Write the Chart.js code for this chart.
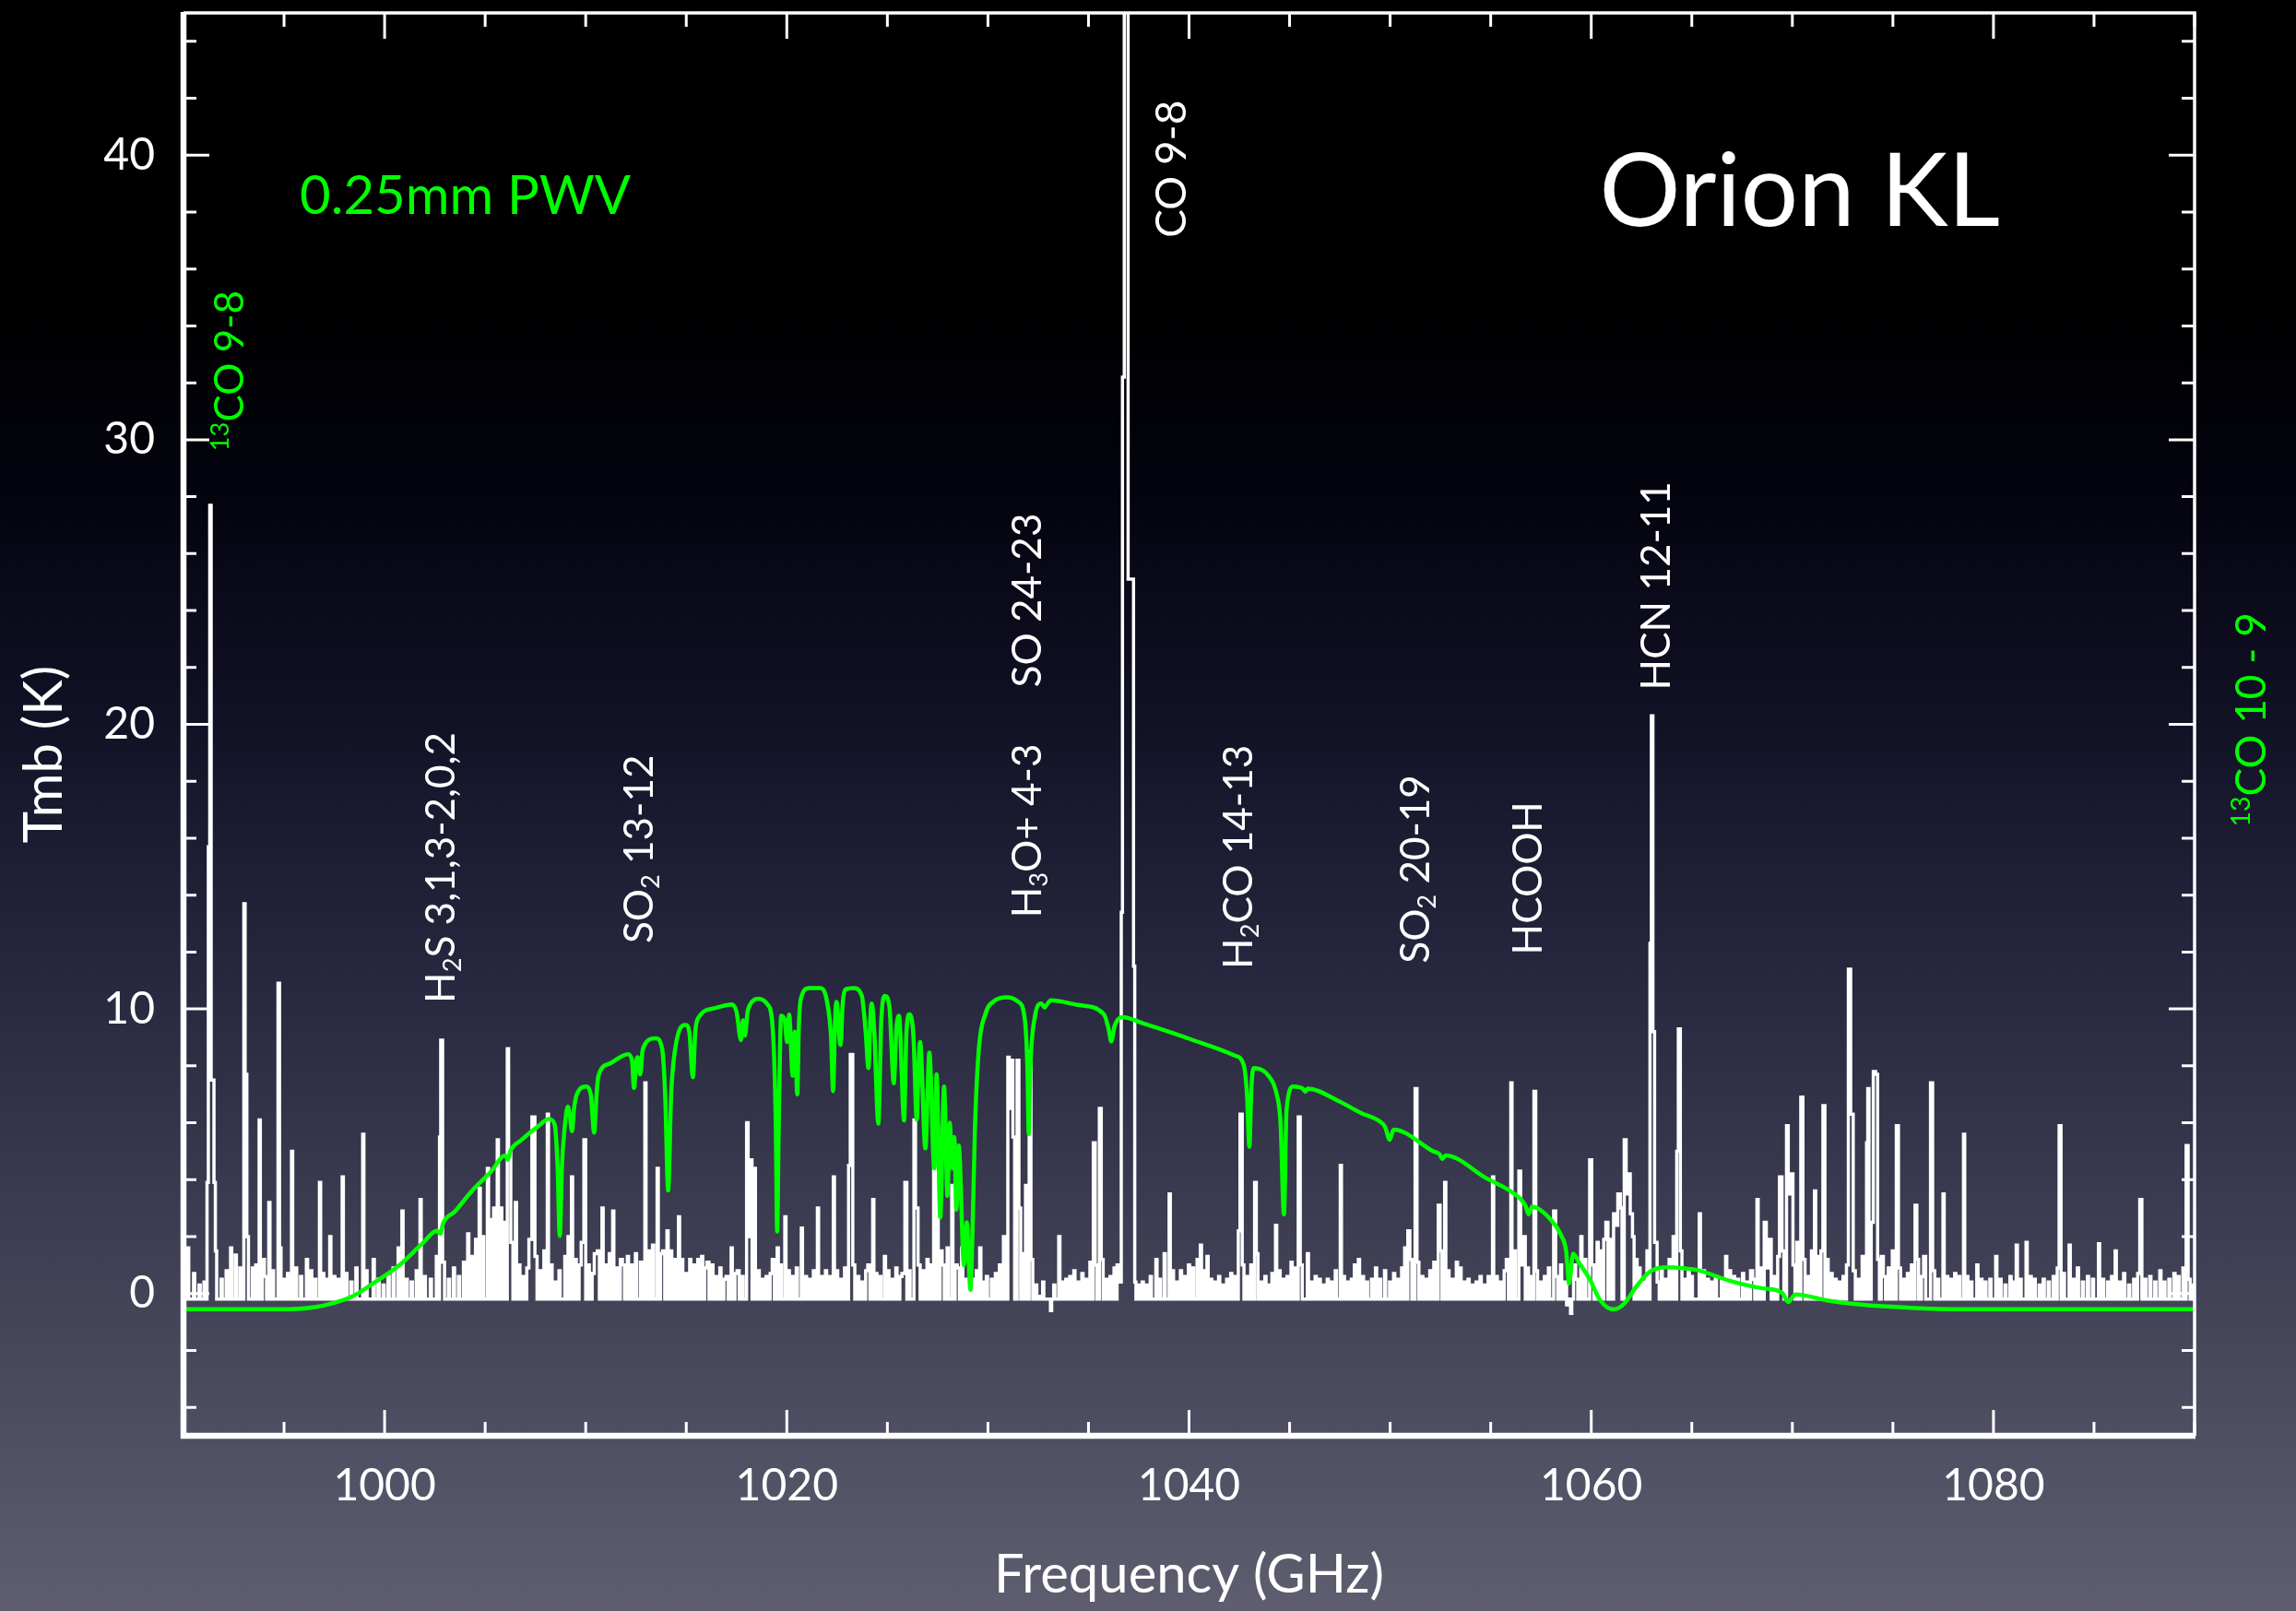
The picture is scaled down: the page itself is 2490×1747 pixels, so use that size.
<!DOCTYPE html>
<html>
<head>
<meta charset="utf-8">
<title>Orion KL 1 THz spectrum</title>
<script src="https://cdn.jsdelivr.net/npm/chart.js@4.4.1/dist/chart.umd.min.js"></script>
<style>
  html, body { margin: 0; padding: 0; background: #000; }
  canvas { display: block; }
</style>
</head>
<body>
<canvas id="spec" width="2490" height="1747"></canvas>
<script>
// ---- Orion KL spectrum: channels above the baseline (GHz, K) ----
const specFreq = [
  990.23, 990.53, 990.8, 991.05, 991.20, 991.27, 991.34, 991.41, 991.48, 991.55, 991.62, 991.9,
  992.15, 992.37, 992.6, 992.83, 993.03, 993.1, 993.2, 993.45, 993.62, 993.79, 993.95, 994.1,
  994.27, 994.45, 994.73, 994.82, 995.0, 995.2, 995.4, 995.6, 995.85, 996.14, 996.35, 996.55,
  996.79, 996.95, 997.12, 997.3, 997.5, 997.7, 997.92, 998.1, 998.35, 998.6, 998.94, 999.1,
  999.46, 999.7, 999.95, 1000.2, 1000.45, 1000.7, 1000.89, 1001.1, 1001.35, 1001.6, 1001.79, 1002.0,
  1002.3, 1002.6, 1002.76, 1002.82, 1002.95, 1003.2, 1003.45, 1003.7, 1003.95, 1004.16, 1004.35, 1004.55,
  1004.73, 1004.9, 1005.14, 1005.3, 1005.45, 1005.63, 1005.8, 1005.95, 1006.13, 1006.2, 1006.35, 1006.53,
  1006.7, 1006.9, 1007.1, 1007.25, 1007.40, 1007.55, 1007.75, 1007.95, 1008.12, 1008.3, 1008.5, 1008.7,
  1008.99, 1009.15, 1009.32, 1009.5, 1009.7, 1009.85, 1009.97, 1010.15, 1010.35, 1010.5, 1010.65, 1010.84,
  1011.0, 1011.2, 1011.37, 1011.55, 1011.75, 1011.9, 1012.1, 1012.3, 1012.5, 1012.75, 1012.97, 1013.15,
  1013.35, 1013.58, 1013.75, 1013.9, 1014.07, 1014.25, 1014.45, 1014.64, 1014.8, 1015.0, 1015.2, 1015.4,
  1015.6, 1015.79, 1015.95, 1016.1, 1016.3, 1016.5, 1016.7, 1016.9, 1017.05, 1017.26, 1017.45, 1017.6,
  1017.8, 1018.03, 1018.12, 1018.24, 1018.41, 1018.6, 1018.8, 1019.0, 1019.2, 1019.35, 1019.55, 1019.7,
  1019.93, 1020.1, 1020.3, 1020.5, 1020.75, 1020.95, 1021.15, 1021.35, 1021.55, 1021.75, 1021.95, 1022.15,
  1022.34, 1022.5, 1022.7, 1022.9, 1023.1, 1023.21, 1023.35, 1023.55, 1023.75, 1023.95, 1024.1, 1024.30,
  1024.45, 1024.65, 1024.88, 1025.05, 1025.25, 1025.45, 1025.65, 1025.8, 1025.94, 1026.1, 1026.35, 1026.45,
  1026.6, 1026.8, 1027.0, 1027.15, 1027.33, 1027.5, 1027.65, 1027.8, 1028.0, 1028.23, 1028.4, 1028.55,
  1028.72, 1028.9, 1029.1, 1029.3, 1029.45, 1029.62, 1029.8, 1029.95, 1030.2, 1030.4, 1030.6, 1030.8,
  1031.02, 1031.1, 1031.18, 1031.3, 1031.48, 1031.6, 1031.75, 1031.9, 1032.08, 1032.2, 1032.4, 1032.6,
  1032.75, 1033.14, 1033.3, 1033.55, 1033.7, 1033.9, 1034.1, 1034.3, 1034.5, 1034.7, 1034.9, 1035.1,
  1035.27, 1035.4, 1035.57, 1035.7, 1035.9, 1036.1, 1036.3, 1036.45,
  1036.60, 1036.66, 1036.72, 1036.84, 1036.92, 1037.02, 1037.12, 1037.21, 1037.27, 1037.33,
  1037.5, 1037.7, 1037.9, 1038.1, 1038.38, 1038.55, 1038.79, 1039.04, 1039.2, 1039.4, 1039.6, 1039.8,
  1040.0, 1040.2, 1040.43, 1040.59, 1040.75, 1040.92, 1041.1, 1041.3, 1041.5, 1041.7, 1041.9, 1042.1,
  1042.3, 1042.48, 1042.59, 1042.7, 1042.9, 1043.1, 1043.29, 1043.4, 1043.6, 1043.8, 1044.0, 1044.15,
  1044.33, 1044.5, 1044.7, 1044.9, 1045.1, 1045.3, 1045.46, 1045.6, 1045.91, 1046.1, 1046.3, 1046.5,
  1046.7, 1046.9, 1047.1, 1047.3, 1047.55, 1047.7, 1047.9, 1048.1, 1048.25, 1048.45, 1048.65, 1048.85,
  1049.1, 1049.3, 1049.5, 1049.75, 1050.0, 1050.2, 1050.4, 1050.6, 1050.75, 1050.91, 1051.05, 1051.27,
  1051.4, 1051.6, 1051.8, 1052.0, 1052.2, 1052.42, 1052.55, 1052.74, 1052.9, 1053.1, 1053.32, 1053.5,
  1053.7, 1053.9, 1054.1, 1054.3, 1054.5, 1054.7, 1054.9, 1055.12, 1055.3, 1055.5, 1055.7, 1055.85,
  1056.03, 1056.2, 1056.43, 1056.55, 1056.69, 1056.85, 1057.0, 1057.18, 1057.3, 1057.5, 1057.7, 1057.9,
  1058.16, 1058.3, 1058.5, 1058.7, 1058.85, 1059.0, 1059.15, 1059.3, 1059.51, 1059.7, 1059.95, 1060.1,
  1060.32, 1060.5, 1060.65, 1060.8, 1060.95, 1061.14, 1061.25, 1061.39, 1061.5, 1061.67, 1061.8, 1061.88,
  1062.0, 1062.1, 1062.25, 1062.4, 1062.6, 1062.8, 1062.95, 1063.03, 1063.1, 1063.2, 1063.35, 1063.5,
  1063.7, 1063.9, 1064.1, 1064.28, 1064.38, 1064.48, 1064.65, 1064.85, 1065.0, 1065.4, 1065.6, 1065.8,
  1066.0, 1066.2, 1066.5, 1066.71, 1066.9, 1067.1, 1067.3, 1067.55, 1067.75, 1067.95, 1068.1, 1068.27,
  1068.45, 1068.63, 1068.78, 1068.92, 1069.1, 1069.3, 1069.42, 1069.55, 1069.74, 1069.85, 1069.96, 1070.1,
  1070.25, 1070.45, 1070.6, 1070.8, 1070.98, 1071.13, 1071.3, 1071.45, 1071.59, 1071.75, 1071.95, 1072.15,
  1072.35, 1072.55, 1072.72, 1072.85, 1072.95, 1073.1, 1073.3, 1073.5, 1073.72, 1073.78, 1073.95, 1074.1,
  1074.18, 1074.3, 1074.45, 1074.6, 1074.8, 1075.0, 1075.2, 1075.35, 1075.55, 1075.75, 1075.95, 1076.13,
  1076.25, 1076.45, 1076.6, 1076.9, 1077.05, 1077.25, 1077.52, 1077.7, 1077.9, 1078.1, 1078.3, 1078.54,
  1078.7, 1078.9, 1079.2, 1079.4, 1079.6, 1079.85, 1080.14, 1080.35, 1080.6, 1080.85, 1081.0, 1081.16,
  1081.35, 1081.65, 1081.85, 1082.05, 1082.3, 1082.5, 1082.75, 1083.0, 1083.2, 1083.33, 1083.5, 1083.79,
  1084.0, 1084.2, 1084.45, 1084.7, 1084.95, 1085.25, 1085.45, 1085.7, 1085.9, 1086.08, 1086.3, 1086.5,
  1086.75, 1087.0, 1087.2, 1087.35, 1087.55, 1087.8, 1088.05, 1088.3, 1088.5, 1088.75, 1089.0, 1089.2,
  1089.45, 1089.61, 1089.75, 1089.9
];
const specTb = [
  1.6, 0.7, 0.3, 0.4, 3.9, 15.7, 27.7, 7.5, 7.5, 3.9, 1.5, 0.5,
  0.8, 1.6, 1.35, 0.9, 13.7, 7.7, 2.0, 0.9, 1.0, 6.1, 1.2, 0.6,
  3.2, 0.8, 10.9, 1.6, 0.5, 0.7, 5.0, 0.9, 0.6, 1.2, 0.8, 0.5,
  3.9, 0.7, 0.5, 2.0, 0.6, 0.5, 4.1, 0.7, 0.4, 0.9, 5.6, 0.8,
  1.2, 0.5, 0.3, 0.6, 0.9, 1.6, 2.9, 0.5, 0.4, 0.8, 3.3, 0.6,
  0.5, 1.3, 5.5, 8.9, 1.1, 0.5, 0.9, 0.6, 1.1, 2.1, 1.3, 1.9,
  3.7, 2.0, 4.4, 2.6, 3.0, 5.4, 3.0, 2.5, 8.6, 5.0, 1.8, 3.2,
  1.0, 0.6, 0.9, 1.9, 6.2, 1.3, 0.8, 1.5, 6.3, 1.0, 0.4, 0.8,
  1.3, 2.0, 4.1, 1.2, 1.0, 1.8, 5.4, 1.0, 0.7, 1.4, 1.5, 3.0,
  1.0, 1.4, 2.9, 0.9, 1.2, 1.0, 1.3, 1.0, 1.4, 1.1, 7.4, 1.5,
  1.7, 4.4, 1.4, 1.5, 2.2, 1.5, 1.2, 2.7, 1.2, 0.7, 1.2, 1.0,
  1.2, 1.3, 0.9, 1.1, 1.0, 0.6, 0.9, 0.5, 0.6, 1.6, 0.7, 0.8,
  0.6, 6.0, 2.0, 4.7, 4.4, 0.8, 0.5, 0.6, 0.7, 1.2, 1.6, 1.0,
  2.7, 0.8, 0.6, 0.9, 2.3, 0.6, 0.5, 0.8, 3.0, 0.6, 0.8, 0.6,
  4.1, 0.8, 0.5, 0.9, 4.5, 8.4, 1.0, 0.6, 0.4, 0.8, 1.0, 3.3,
  0.7, 0.6, 1.3, 0.8, 0.5, 0.9, 0.6, 0.7, 3.9, 0.8, 6.1, 3.0,
  1.0, 0.8, 1.2, 1.0, 4.4, 5.9, 1.5, 1.0, 1.6, 3.8, 1.0, 0.9,
  1.6, 0.5, 0.7, 0.5, 0.8, 1.6, 0.4, 0.6, 0.5, 0.7, 1.0, 2.0,
  8.3, 6.5, 8.2, 5.5, 8.2, 3.0, 1.4, 3.8, 8.5, 1.2, 0.3, -0.1,
  0.4, -0.6, 0.3, 2.0, 0.4, 0.5, 0.6, 0.8, 0.4, 0.7, 0.5, 1.1,
  5.3, 1.0, 6.5, 1.2, 0.5, 0.6, 0.9, 1.0,
  0.4, 13.4, 32.2, 60, 60, 25.1, 25.1, 25.1, 11.5, 0.4,
  0.3, 0.4, 0.3, 0.6, 1.2, 0.5, 1.4, 3.5, 0.8, 0.4, 0.8, 0.6,
  1.0, 0.9, 1.2, 1.7, 0.8, 1.3, 0.5, 0.4, 0.6, 0.3, 0.5, 0.7,
  0.6, 2.2, 6.3, 1.0, 0.6, 1.0, 3.9, 1.4, 0.4, 0.6, 0.3, 0.7,
  2.4, 0.8, 0.5, 0.6, 1.1, 0.9, 6.2, 1.0, 1.4, 0.4, 0.6, 0.5,
  0.3, 0.5, 0.4, 0.8, 4.5, 0.6, 0.4, 0.5, 1.0, 1.2, 0.6, 0.4,
  0.5, 0.9, 0.5, 0.8, 0.4, 0.7, 0.5, 0.9, 1.6, 2.2, 1.2, 7.2,
  1.1, 0.6, 0.5, 0.8, 1.1, 3.1, 1.5, 3.9, 0.8, 0.5, 1.1, 0.9,
  0.4, 0.5, 0.3, 0.4, 0.6, 0.3, 0.6, 4.1, 0.6, 0.4, 0.8, 1.2,
  7.4, 1.5, 4.3, 1.0, 2.0, 0.9, 0.6, 7.1, 0.8, 0.4, 0.6, 0.9,
  2.9, 0.6, 1.0, 0.4, -0.4, -0.7, 1.0, 0.5, 2.0, 1.2, 4.7, 1.0,
  1.8, 1.5, 1.9, 2.5, 1.9, 2.8, 2.4, 3.5, 3.0, 5.4, 3.5, 4.2,
  2.8, 2.0, 1.2, 0.9, 0.4, 1.5, 12.3, 20.3, 9.2, 1.8, 0.4, 0.8,
  0.5, 1.2, 2.0, 5.0, 9.3, 1.5, 0.5, 0.8, 0.6, 2.8, 0.8, 0.5,
  0.4, 0.6, 0.5, 1.3, 0.8, 0.6, 0.5, 0.7, 0.4, 0.8, 0.5, 3.3,
  0.9, 2.5, 0.9, 1.9, 0.6, 1.3, 4.1, 1.5, 5.9, 3.5, 4.2, 1.0,
  1.8, 6.9, 1.2, 0.6, 1.5, 3.6, 1.3, 1.5, 6.6, 1.2, 0.7, 0.5,
  0.4, 0.6, 1.0, 11.4, 6.3, 0.8, 0.5, 1.3, 5.3, 7.2, 2.5, 7.8,
  7.7, 1.2, 1.3, 0.6, 0.9, 1.5, 5.9, 0.9, 0.5, 0.7, 1.0, 3.1,
  1.2, 0.6, 1.3, 7.4, 0.8, 0.5, 3.5, 0.6, 0.5, 0.7, 0.6, 5.6,
  0.6, 0.4, 1.0, 0.5, 0.4, 0.5, 1.3, 0.5, 0.3, 0.6, 0.4, 1.7,
  0.5, 1.8, 0.6, 0.5, 0.3, 0.5, 0.4, 0.6, 0.9, 5.9, 0.7, 1.7,
  0.5, 0.9, 0.4, 0.6, 0.5, 1.75, 0.5, 0.4, 0.6, 1.5, 0.4, 0.7,
  0.3, 0.5, 0.7, 3.3, 0.5, 0.6, 0.4, 0.8, 0.4, 0.5, 0.7, 0.6,
  0.9, 5.2, 0.5, 0.3
];
// Level of the line-free baseline (K)
const BASELINE = -0.2;
// Spectrometer channel width (GHz)
const CHANNEL = 0.06;

// ---- Atmospheric transmission for 0.25 mm PWV, on the Tmb scale ----
const atmFreq = [
  990.0, 995.3, 996.46, 997.45, 998.43, 999.41, 1000.72, 1001.87, 1002.6, 1002.77, 1002.9, 1003.51,
  1004.32, 1005.31, 1006.0, 1006.13, 1006.25, 1006.78, 1007.6, 1008.17, 1008.45, 1008.6, 1008.71, 1008.82,
  1008.95, 1009.11, 1009.2, 1009.32, 1009.42, 1009.56, 1010.02, 1010.25, 1010.42, 1010.55, 1010.63, 1011.2,
  1012.1, 1012.3, 1012.4, 1012.52, 1012.59, 1012.71, 1012.82, 1012.92, 1013.49, 1013.8, 1013.95, 1014.1,
  1014.25, 1014.45, 1014.97, 1015.15, 1015.33, 1015.45, 1015.62, 1016.44, 1017.26, 1017.5, 1017.72, 1017.82,
  1017.92, 1018.05, 1018.16, 1018.57, 1019.06, 1019.31, 1019.45, 1019.52, 1019.6, 1019.72, 1019.9, 1020.01,
  1020.12, 1020.29, 1020.4, 1020.52, 1020.6, 1020.7, 1021.11, 1021.68, 1022.0, 1022.2, 1022.3, 1022.4,
  1022.47, 1022.67, 1022.78, 1022.91, 1023.32, 1023.73, 1023.92, 1024.06, 1024.15, 1024.22, 1024.35, 1024.55,
  1024.7, 1024.88, 1025.1, 1025.32, 1025.45, 1025.58, 1025.83, 1025.95, 1026.1, 1026.3, 1026.46, 1026.55,
  1026.63, 1026.89, 1027.09, 1027.33, 1027.45, 1027.63, 1027.82, 1027.99, 1028.1, 1028.24, 1028.33, 1028.43,
  1028.55, 1028.81, 1028.95, 1029.13, 1029.25, 1029.35, 1029.54, 1029.87, 1030.36, 1030.93, 1031.51, 1031.84,
  1031.97, 1032.03, 1032.1, 1032.33, 1032.65, 1032.82, 1032.9, 1033.14, 1034.46, 1035.77, 1036.0, 1036.13,
  1036.3, 1036.67, 1037.73, 1039.37, 1040.02, 1042.31, 1042.72, 1042.88, 1043.0, 1043.1, 1043.21, 1043.95,
  1044.36, 1044.55, 1044.72, 1044.85, 1045.18, 1045.65, 1045.78, 1045.9, 1047.39, 1048.53, 1049.52, 1049.75,
  1049.98, 1050.17, 1052.14, 1052.45, 1052.6, 1052.75, 1054.76, 1056.4, 1056.72, 1056.89, 1057.05, 1058.03,
  1058.52, 1058.75, 1058.9, 1059.1, 1059.42, 1059.92, 1060.41, 1060.82, 1061.14, 1061.63, 1062.29, 1062.94,
  1063.76, 1064.58, 1065.24, 1066.88, 1068.52, 1069.5, 1069.79, 1070.15, 1071.79, 1073.43, 1075.88, 1078.34,
  1090.0
];
const atmTb = [
  -0.55, -0.55, -0.49, -0.34, -0.09, 0.35, 0.99, 1.75, 2.2, 2.1, 2.45, 2.89,
  3.59, 4.3, 4.85, 4.7, 5.0, 5.38, 5.86, 6.13, 5.95, 4.5, 2.02, 4.5,
  5.8, 6.57, 6.3, 5.7, 6.5, 7.0, 7.27, 7.0, 5.65, 7.1, 7.65, 8.08,
  8.41, 8.2, 7.22, 8.2, 8.3, 7.7, 8.5, 8.73, 8.97, 8.6, 7.0, 3.62,
  7.0, 8.6, 9.44, 9.2, 7.6, 9.2, 9.71, 10.03, 10.16, 9.9, 8.9, 9.6,
  9.06, 9.9, 10.14, 10.36, 10.14, 9.2, 6.0, 2.18, 6.0, 9.76, 9.6, 8.84,
  9.8, 7.65, 9.2, 7.0, 9.4, 10.36, 10.73, 10.73, 10.25, 9.0, 7.11, 9.6,
  10.25, 8.73, 10.2, 10.68, 10.73, 10.46, 9.2, 7.92, 9.6, 10.19, 9.2, 5.97,
  9.6, 10.46, 10.1, 7.38, 9.3, 9.76, 6.08, 9.2, 9.81, 9.0, 6.1, 8.0,
  8.84, 5.1, 8.46, 4.4, 7.7, 2.67, 7.27, 3.43, 6.0, 4.4, 5.5, 2.94,
  5.2, 1.0, 2.5, 0.13, 2.67, 5.7, 8.52, 9.81, 10.3, 10.41, 10.25, 9.6,
  7.76, 5.6, 7.76, 9.71, 10.19, 10.05, 10.12, 10.3, 10.14, 9.81, 9.3, 8.86,
  9.4, 9.71, 9.49, 9.11, 8.95, 8.35, 8.03, 7.0, 5.16, 7.2, 7.92, 7.65,
  7.0, 6.0, 2.78, 6.46, 7.27, 7.2, 7.09, 7.2, 6.78, 6.35, 6.03, 5.85,
  5.4, 5.76, 5.0, 4.9, 4.73, 4.85, 4.06, 3.38, 3.1, 2.78, 3.05, 2.56,
  2.02, 1.5, 0.35, 1.4, 1.05, 0.51, -0.2, -0.5, -0.55, -0.36, 0.29, 0.78,
  0.92, 0.89, 0.83, 0.45, 0.18, 0.02, -0.3, -0.03, -0.25, -0.39, -0.5, -0.55,
  -0.55
];

// ---- Axis ticks ----
const freqTickLabels = [1000, 1020, 1040, 1060, 1080];
const tbTickLabels = [0, 10, 20, 30, 40];

// ---- Build the plotted series ----
function zipSorted(xs, ys) {
  return xs.map((x, i) => ({ x: x, y: ys[i] })).sort((a, b) => a.x - b.x);
}

// Line-free gaps sit on the baseline; each listed channel is one histogram bin.
function spectrumPoints() {
  const ch = zipSorted(specFreq, specTb);
  const out = [{ x: 990, y: BASELINE }];
  for (let i = 0; i < ch.length; i++) {
    const prev = i > 0 ? ch[i - 1].x : -Infinity;
    const next = i < ch.length - 1 ? ch[i + 1].x : Infinity;
    if (ch[i].x - prev > 2.5 * CHANNEL) out.push({ x: ch[i].x - CHANNEL, y: BASELINE });
    out.push(ch[i]);
    if (next - ch[i].x > 2.5 * CHANNEL) out.push({ x: ch[i].x + CHANNEL, y: BASELINE });
  }
  out.push({ x: 1090, y: BASELINE });
  return out;
}

const FONT = 'Lato, "Open Sans", "DejaVu Sans", sans-serif';
const WHITE = '#ffffff';
const GREEN = '#00ff00';

// Line identifications: _{..} subscript, ^{..} superscript
const annotations = [
  { text: 'CO 9-8', f: 1039.1, t: 37.1, color: WHITE, size: 46, rot: true },
  { text: 'H_{2}S 3,1,3-2,0,2', f: 1002.75, t: 10.2, color: WHITE, size: 44, rot: true },
  { text: 'SO_{2} 13-12', f: 1012.6, t: 12.3, color: WHITE, size: 44, rot: true },
  { text: 'H_{3}O+ 4-3', f: 1031.9, t: 13.2, color: WHITE, size: 44, rot: true },
  { text: 'SO 24-23', f: 1031.9, t: 21.3, color: WHITE, size: 44, rot: true },
  { text: 'H_{2}CO 14-13', f: 1042.4, t: 11.4, color: WHITE, size: 44, rot: true },
  { text: 'SO_{2} 20-19', f: 1051.2, t: 11.6, color: WHITE, size: 44, rot: true },
  { text: 'HCOOH', f: 1056.8, t: 11.9, color: WHITE, size: 44, rot: true },
  { text: 'HCN 12-11', f: 1063.2, t: 21.2, color: WHITE, size: 44, rot: true },
  { text: '^{13}CO 9-8', f: 992.25, t: 29.6, color: GREEN, size: 44, rot: true },
  { text: '^{13}CO 10 - 9', f: 1092.75, t: 16.4, color: GREEN, size: 46, rot: true },
  { text: '0.25mm PWV', f: 995.78, t: 37.95, color: GREEN, size: 58, rot: false },
  { text: 'Orion KL', f: 1060.4, t: 37.5, color: WHITE, size: 110, rot: false }
];

function parseRich(str) {
  const parts = [];
  const re = /_\{([^}]*)\}|\^\{([^}]*)\}|([^_^]+)/g;
  let m;
  while ((m = re.exec(str)) !== null) {
    if (m[1] !== undefined) parts.push({ s: m[1], mode: 'sub' });
    else if (m[2] !== undefined) parts.push({ s: m[2], mode: 'sup' });
    else parts.push({ s: m[3], mode: 'n' });
  }
  return parts;
}

function drawRich(ctx, str, size, color, capCentred) {
  const parts = parseRich(str);
  let x = 0;
  const yBase = capCentred ? size * 0.36 : 0;
  ctx.fillStyle = color;
  ctx.textAlign = 'left';
  ctx.textBaseline = 'alphabetic';
  for (const p of parts) {
    let fs = size, dy = 0;
    if (p.mode === 'sub') { fs = size * 0.62; dy = size * 0.16; }
    if (p.mode === 'sup') { fs = size * 0.62; dy = -size * 0.36; }
    ctx.font = fs + 'px ' + FONT;
    ctx.fillText(p.s, x, yBase + dy);
    x += ctx.measureText(p.s).width;
  }
}

// Gradient backdrop behind the whole figure
const backdrop = {
  id: 'backdrop',
  beforeDraw(chart) {
    const ctx = chart.ctx;
    const h = chart.height;
    const g = ctx.createLinearGradient(0, 0, 0, h);
    g.addColorStop(0.00, '#000000');
    g.addColorStop(0.18, '#000000');
    g.addColorStop(0.30, '#03030e');
    g.addColorStop(0.45, '#121227');
    g.addColorStop(0.60, '#26263e');
    g.addColorStop(0.75, '#3b3b51');
    g.addColorStop(0.90, '#505064');
    g.addColorStop(1.00, '#5e5e70');
    ctx.save();
    ctx.fillStyle = g;
    ctx.fillRect(0, 0, chart.width, h);
    ctx.restore();
  }
};

// Boxed frame with inward ticks on all four sides, plus text overlays
const frame = {
  id: 'frame',
  afterDraw(chart) {
    const ctx = chart.ctx;
    const a = chart.chartArea;
    const xs = chart.scales.x, ys = chart.scales.y;
    ctx.save();
    ctx.strokeStyle = WHITE;
    ctx.lineCap = 'butt';

    // ticks
    ctx.lineWidth = 3;
    for (let f = 990; f <= 1090; f += 5) {
      const px = xs.getPixelForValue(f);
      const len = (f % 20 === 0) ? 28 : 15;
      ctx.beginPath();
      ctx.moveTo(px, a.bottom); ctx.lineTo(px, a.bottom - len);
      ctx.moveTo(px, a.top); ctx.lineTo(px, a.top + len);
      ctx.stroke();
    }
    for (let t = -4; t <= 44; t += 2) {
      const py = ys.getPixelForValue(t);
      const len = (t % 10 === 0) ? 28 : 14;
      ctx.beginPath();
      ctx.moveTo(a.left, py); ctx.lineTo(a.left + len, py);
      ctx.moveTo(a.right, py); ctx.lineTo(a.right - len, py);
      ctx.stroke();
    }

    // frame: heavier left/bottom, lighter top/right
    ctx.lineWidth = 6.5;
    ctx.beginPath();
    ctx.moveTo(a.left, a.top - 1); ctx.lineTo(a.left, a.bottom);
    ctx.lineTo(a.right + 1, a.bottom);
    ctx.stroke();
    ctx.lineWidth = 3.5;
    ctx.beginPath();
    ctx.moveTo(a.left, a.top); ctx.lineTo(a.right, a.top); ctx.lineTo(a.right, a.bottom);
    ctx.stroke();

    // line identifications and labels
    for (const an of annotations) {
      const px = xs.getPixelForValue(an.f);
      const py = ys.getPixelForValue(an.t);
      ctx.save();
      ctx.translate(px, py);
      if (an.rot) ctx.rotate(-Math.PI / 2);
      drawRich(ctx, an.text, an.size, an.color, an.rot);
      ctx.restore();
    }

    // axis titles
    ctx.fillStyle = WHITE;
    ctx.font = '58px ' + FONT;
    ctx.textAlign = 'center';
    ctx.textBaseline = 'middle';
    ctx.fillText('Frequency (GHz)', (a.left + a.right) / 2, 1708);
    ctx.save();
    ctx.translate(48, 818);
    ctx.rotate(-Math.PI / 2);
    ctx.fillText('Tmb (K)', 0, 0);
    ctx.restore();

    ctx.restore();
  }
};

new Chart(document.getElementById('spec'), {
  type: 'line',
  data: {
    datasets: [
      {
        label: 'Atmosphere (0.25mm PWV)',
        data: zipSorted(atmFreq, atmTb),
        borderColor: GREEN,
        borderWidth: 4.5,
        pointRadius: 0,
        cubicInterpolationMode: 'monotone',
        fill: false,
        order: 0
      },
      {
        label: 'Orion KL',
        data: spectrumPoints(),
        borderColor: WHITE,
        borderWidth: 3.5,
        pointRadius: 0,
        stepped: 'middle',
        fill: false,
        order: 1
      }
    ]
  },
  options: {
    responsive: false,
    animation: false,
    devicePixelRatio: 1,
    events: [],
    layout: { padding: { top: 14, right: 110, left: 0, bottom: 0 } },
    plugins: { legend: { display: false }, tooltip: { enabled: false }, title: { display: false } },
    scales: {
      x: {
        type: 'linear',
        min: 990,
        max: 1090,
        grid: { display: false, drawTicks: false },
        border: { display: false },
        ticks: {
          color: WHITE, font: { family: FONT, size: 48 }, padding: 26, maxRotation: 0,
          callback: v => String(v)
        },
        afterBuildTicks(s) { s.ticks = freqTickLabels.map(v => ({ value: v })); },
        afterFit(s) { s.height = 190; s.paddingLeft = 0; s.paddingRight = 0; }
      },
      y: {
        type: 'linear',
        min: -5,
        max: 45,
        grid: { display: false, drawTicks: false },
        border: { display: false },
        ticks: {
          color: WHITE, font: { family: FONT, size: 48 }, padding: 31,
          callback: v => String(v)
        },
        afterBuildTicks(s) { s.ticks = tbTickLabels.map(v => ({ value: v })); },
        afterFit(s) { s.width = 199; s.paddingTop = 0; s.paddingBottom = 0; }
      }
    }
  },
  plugins: [backdrop, frame]
});
</script>
</body>
</html>
